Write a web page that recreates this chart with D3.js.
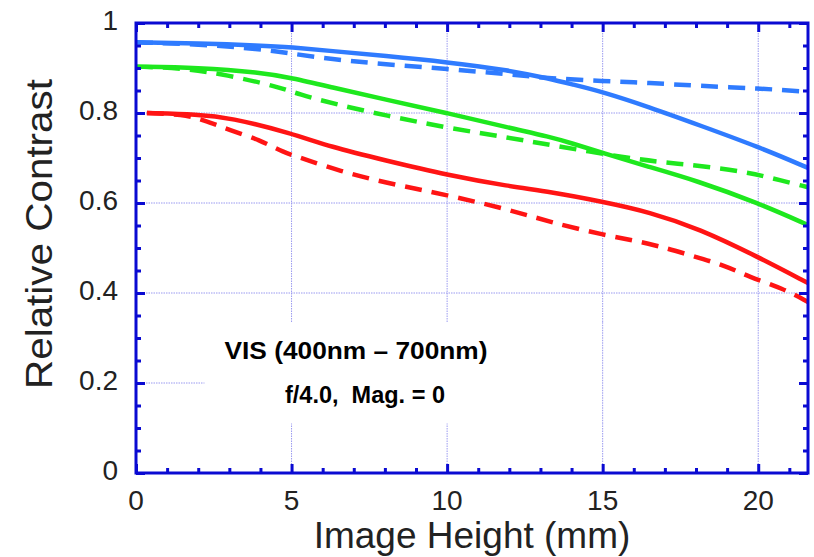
<!DOCTYPE html>
<html>
<head>
<meta charset="utf-8">
<script src="https://cdn.jsdelivr.net/npm/d3@7"></script>
<style>
  html, body { margin: 0; padding: 0; background: #fff; }
  svg { display: block; font-family: "Liberation Sans", Arial, sans-serif; }
</style>
</head>
<body>
<svg id="chart" width="814" height="557"></svg>
<script>
// ---- data ----
const xTickValues = [0, 5, 10, 15, 20];
const yTickValues = [0, 0.2, 0.4, 0.6, 0.8, 1];
const yTickLabels = ["0", "0.2", "0.4", "0.6", "0.8", "1"];
const xMinorTicks = [1, 2, 3, 4, 6, 7, 8, 9, 11, 12, 13, 14, 16, 17, 18, 19, 21];
const yMinorTicks = [0.05, 0.1, 0.15, 0.25, 0.3, 0.35, 0.45, 0.5, 0.55, 0.65, 0.7, 0.75, 0.85, 0.9, 0.95];

const blueSolidX = [0, 2, 4, 5, 6.24, 8, 10, 12, 13.3, 14, 15, 16.5, 18.1, 20, 21.6];
const blueSolidY = [0.957, 0.955, 0.95, 0.946, 0.938, 0.927, 0.913, 0.895, 0.876, 0.864, 0.847, 0.813, 0.773, 0.725, 0.678];

const blueDashX = [0, 2, 4, 5, 6.24, 8, 10, 12, 13.3, 15, 16.5, 18.1, 20, 21.6];
const blueDashY = [0.957, 0.953, 0.942, 0.932, 0.92, 0.908, 0.898, 0.886, 0.877, 0.871, 0.867, 0.86, 0.855, 0.847];

const greenSolidX = [0, 2, 4, 5, 6.24, 8, 10, 12, 13.3, 14, 15, 16.5, 18, 20, 21.6];
const greenSolidY = [0.903, 0.901, 0.89, 0.878, 0.858, 0.83, 0.80, 0.767, 0.747, 0.733, 0.711, 0.68, 0.65, 0.6, 0.551];

const greenDashX = [0, 1.5, 2.9, 4.6, 5.2, 6.5, 8, 10, 12, 13.3, 15.8, 17.1, 18, 19.6, 20.4, 21.6];
const greenDashY = [0.903, 0.9, 0.885, 0.858, 0.842, 0.818, 0.795, 0.767, 0.745, 0.729, 0.70, 0.689, 0.684, 0.669, 0.656, 0.635];

const redSolidX = [0.35, 2, 3, 5, 6.24, 8, 10, 12, 13.3, 15, 16.5, 18.1, 20, 21.6];
const redSolidY = [0.80, 0.797, 0.79, 0.755, 0.725, 0.695, 0.662, 0.637, 0.625, 0.603, 0.58, 0.543, 0.48, 0.422];

const redDashX = [0.35, 1.5, 2.2, 3, 4, 4.7, 5.5, 6.5, 8, 10, 12, 13.3, 15, 16.5, 17.8, 18.9, 19.7, 20.8, 21.6];
const redDashY = [0.80, 0.797, 0.784, 0.762, 0.74, 0.713, 0.696, 0.672, 0.645, 0.618, 0.585, 0.558, 0.529, 0.511, 0.484, 0.462, 0.436, 0.41, 0.38];

const seriesNames = ["blue solid", "blue dashed", "green solid", "green dashed", "red solid", "red dashed"];
const seriesColors = ["#2f7bff", "#2f7bff", "#1ee81e", "#1ee81e", "#ff1414", "#ff1414"];
const seriesDashed = [false, true, false, true, false, true];
const seriesX = [blueSolidX, blueDashX, greenSolidX, greenDashX, redSolidX, redDashX];
const seriesY = [blueSolidY, blueDashY, greenSolidY, greenDashY, redSolidY, redDashY];

const annotation1 = "VIS (400nm \u2013 700nm)";
const annotation2 = "f/4.0,  Mag. = 0";
const xTitle = "Image Height (mm)";
const yTitle = "Relative Contrast";

// ---- layout ----
const W = 814, H = 557;
const margin = { left: 136, top: 23, right: 6, bottom: 84 };
const iw = W - margin.left - margin.right;
const ih = H - margin.top - margin.bottom;
const frameColor = "#0a0ad2";
const gridColor = "#9a9af0";

const svg = d3.select("#chart");
const g = svg.append("g").attr("transform", `translate(${margin.left},${margin.top})`);

const x = d3.scaleLinear().domain([0, 21.6]).range([0, iw]);
const y = d3.scaleLinear().domain([0, 1]).range([ih, 0]);

// grid
const gridG = g.append("g");
gridG.selectAll("line.vg").data([5, 10, 15, 20]).join("line")
  .attr("x1", d => x(d)).attr("x2", d => x(d))
  .attr("y1", 0).attr("y2", ih)
  .attr("stroke", gridColor).attr("stroke-width", 1).attr("stroke-dasharray", "1.5,1");
gridG.selectAll("line.hg").data([0.2, 0.4, 0.6, 0.8]).join("line")
  .attr("x1", 0).attr("x2", iw)
  .attr("y1", d => y(d)).attr("y2", d => y(d))
  .attr("stroke", gridColor).attr("stroke-width", 1).attr("stroke-dasharray", "1.5,1");

// white label box hiding grid
g.append("rect")
  .attr("x", x(2.2)).attr("y", y(0.335))
  .attr("width", x(21.6) - x(2.2) - 2).attr("height", y(0.11) - y(0.335))
  .attr("fill", "#fff");
g.append("g").selectAll("line").data([15, 20]).join("line")
  .attr("x1", d => x(d)).attr("x2", d => x(d))
  .attr("y1", y(0.335)).attr("y2", y(0.11))
  .attr("stroke", gridColor).attr("stroke-width", 1).attr("stroke-dasharray", "1.5,1");

// curves
const line = d3.line().x(d => x(d[0])).y(d => y(d[1])).curve(d3.curveBasis);
seriesNames.forEach((name, i) => {
  const pts = seriesX[i].map((v, j) => [v, seriesY[i][j]]);
  g.append("path")
    .datum(pts)
    .attr("d", line)
    .attr("fill", "none")
    .attr("stroke", seriesColors[i])
    .attr("stroke-width", 4.5)
    .attr("stroke-dasharray", seriesDashed[i] ? "17,10" : null);
});

// ticks on all four sides, pointing inward
function tickAxis(axisFn, scale, values, size, transform) {
  const a = g.append("g").attr("transform", transform)
    .call(axisFn(scale).tickValues(values).tickSize(-size).tickFormat(""));
  a.select(".domain").remove();
  a.selectAll(".tick line").attr("stroke", frameColor).attr("stroke-width", 3);
}
tickAxis(d3.axisBottom, x, xMinorTicks, 5, `translate(0,${ih})`);
tickAxis(d3.axisBottom, x, xTickValues, 9, `translate(0,${ih})`);
tickAxis(d3.axisTop, x, xMinorTicks, 5, "translate(0,0)");
tickAxis(d3.axisTop, x, xTickValues, 9, "translate(0,0)");
tickAxis(d3.axisLeft, y, yMinorTicks, 5, "translate(0,0)");
tickAxis(d3.axisLeft, y, yTickValues, 9, "translate(0,0)");
tickAxis(d3.axisRight, y, yMinorTicks, 5, `translate(${iw},0)`);
tickAxis(d3.axisRight, y, yTickValues, 9, `translate(${iw},0)`);

// frame
g.append("rect").attr("x", 0).attr("y", 0).attr("width", iw).attr("height", ih)
  .attr("fill", "none").attr("stroke", frameColor).attr("stroke-width", 3);

// tick labels
g.selectAll("text.xl").data(xTickValues).join("text")
  .attr("x", d => x(d)).attr("y", ih + 37)
  .attr("text-anchor", "middle").attr("font-size", 28).attr("fill", "#222")
  .text(d => d);
g.selectAll("text.yl").data(yTickValues).join("text")
  .attr("x", -18).attr("y", d => y(d) + 7)
  .attr("text-anchor", "end").attr("font-size", 28).attr("fill", "#222")
  .text((d, i) => yTickLabels[i]);

// axis titles
svg.append("text")
  .attr("x", 472).attr("y", 548)
  .attr("text-anchor", "middle").attr("font-size", 37).attr("fill", "#222")
  .text(xTitle);
svg.append("text")
  .attr("transform", "translate(52,234) rotate(-90)")
  .attr("text-anchor", "middle").attr("font-size", 37).attr("fill", "#222")
  .attr("textLength", 310).attr("lengthAdjust", "spacingAndGlyphs")
  .text(yTitle);

// annotations
svg.append("text")
  .attr("x", 356).attr("y", 359)
  .attr("text-anchor", "middle").attr("font-size", 23).attr("font-weight", "bold").attr("fill", "#000")
  .attr("textLength", 263).attr("lengthAdjust", "spacingAndGlyphs")
  .text(annotation1);
svg.append("text")
  .attr("x", 365).attr("y", 403)
  .attr("text-anchor", "middle").attr("font-size", 23).attr("font-weight", "bold").attr("fill", "#000")
  .attr("textLength", 160).attr("lengthAdjust", "spacingAndGlyphs")
  .style("white-space", "pre")
  .text(annotation2);
</script>
</body>
</html>
